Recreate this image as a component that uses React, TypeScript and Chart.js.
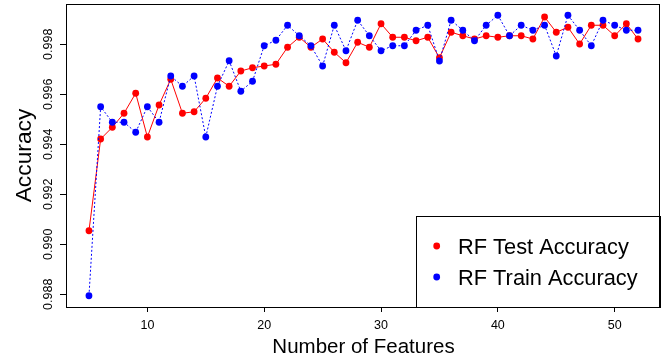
import React, { useEffect, useRef } from "react";
import { Chart, registerables } from "chart.js";

Chart.register(...registerables);

const features = [5, 6, 7, 8, 9, 10, 11, 12, 13, 14, 15, 16, 17, 18, 19, 20, 21, 22, 23, 24, 25, 26, 27, 28, 29, 30, 31, 32, 33, 34, 35, 36, 37, 38, 39, 40, 41, 42, 43, 44, 45, 46, 47, 48, 49, 50, 51, 52];

const testAccuracy = [
  0.99054, 0.99421, 0.99468, 0.99524, 0.99604, 0.99429, 0.99557, 0.9966, 0.99524, 0.9953,
  0.99584, 0.99665, 0.99632, 0.99693, 0.99706, 0.99713, 0.9972, 0.99788, 0.99828, 0.99788,
  0.99821, 0.99768, 0.99726, 0.99808, 0.99788, 0.99882, 0.99828, 0.99828, 0.99814, 0.99828,
  0.99746, 0.99848, 0.99834, 0.99821, 0.99834, 0.99828, 0.99834, 0.99834, 0.99821, 0.99909,
  0.99848, 0.99868, 0.99801, 0.99876, 0.99876, 0.99834, 0.99882, 0.99821,
];

const trainAccuracy = [
  0.98794, 0.9955, 0.99488, 0.99488, 0.99448, 0.9955, 0.99488, 0.99673, 0.99632, 0.99673,
  0.99429, 0.99632, 0.99734, 0.99612, 0.99652, 0.99794, 0.99816, 0.99876, 0.99834, 0.99794,
  0.99713, 0.99876, 0.99774, 0.99896, 0.99834, 0.99774, 0.99794, 0.99794, 0.99856, 0.99876,
  0.99733, 0.99896, 0.99856, 0.99814, 0.99876, 0.99916, 0.99834, 0.99876, 0.99856, 0.99876,
  0.99753, 0.99916, 0.99856, 0.99794, 0.99896, 0.99876, 0.99856, 0.99856,
];

const xTicks = [10, 20, 30, 40, 50];
const yTicks = [0.988, 0.99, 0.992, 0.994, 0.996, 0.998];
const yTickLabels = ["0.988", "0.990", "0.992", "0.994", "0.996", "0.998"];
const legendLabels = ["RF Test Accuracy", "RF Train Accuracy"];
const seriesColors = ["#FF0000", "#0000FF"];

const FONT = '"Liberation Sans", Arial, Helvetica, sans-serif';

const boxLegendPlugin = {
  id: "boxLegend",
  afterDraw(chart: any) {
    const { ctx, chartArea } = chart;
    const { left, top, right, bottom } = chartArea;
    ctx.save();
    // legend
    const lw = 244.3;
    const lh = 91;
    const lx = right - lw;
    const ly = bottom - lh;
    ctx.fillStyle = "#FFFFFF";
    ctx.fillRect(lx, ly, lw, lh);
    ctx.strokeStyle = "#000000";
    ctx.lineWidth = 1;
    ctx.strokeRect(Math.round(lx) + 0.5, Math.round(ly) + 0.5, Math.round(lw), Math.round(lh));
    ctx.font = `21.8px ${FONT}`;
    ctx.textAlign = "left";
    ctx.textBaseline = "alphabetic";
    legendLabels.forEach((label, i) => {
      const cy = ly + 30 + i * 31;
      ctx.fillStyle = seriesColors[i];
      ctx.beginPath();
      ctx.arc(lx + 21, cy, 3.4, 0, Math.PI * 2);
      ctx.fill();
      ctx.fillStyle = "#000000";
      ctx.fillText(label, lx + 42.3, cy + 8.3);
    });
    // plot box
    ctx.strokeStyle = "#000000";
    ctx.lineWidth = 1;
    ctx.strokeRect(Math.round(left) - 0.5, Math.round(top) + 0.5, Math.round(right - left), Math.round(bottom - top));
    ctx.restore();
  },
};

export default function App() {
  const canvasRef = useRef<HTMLCanvasElement | null>(null);

  useEffect(() => {
    if (!canvasRef.current) return;
    const chart = new Chart(canvasRef.current, {
      type: "scatter",
      data: {
        datasets: [
          {
            label: legendLabels[0],
            data: features.map((f, i) => ({ x: f, y: testAccuracy[i] })),
            showLine: true,
            borderColor: seriesColors[0],
            backgroundColor: seriesColors[0],
            borderWidth: 1,
            pointRadius: 3.4,
            pointBorderWidth: 0,
            pointBackgroundColor: seriesColors[0],
            tension: 0,
            order: 1,
          },
          {
            label: legendLabels[1],
            data: features.map((f, i) => ({ x: f, y: trainAccuracy[i] })),
            showLine: true,
            borderColor: seriesColors[1],
            backgroundColor: seriesColors[1],
            borderWidth: 1,
            borderDash: [2, 2],
            pointRadius: 3.4,
            pointBorderWidth: 0,
            pointBackgroundColor: seriesColors[1],
            tension: 0,
            order: 0,
          },
        ],
      },
      options: {
        responsive: false,
        animation: false,
        devicePixelRatio: 1,
        layout: { padding: { top: 4, right: 4, left: 0, bottom: 0 } },
        plugins: {
          legend: { display: false },
          tooltip: { enabled: false },
        },
        scales: {
          x: {
            type: "linear",
            min: 3.12,
            max: 53.88,
            afterBuildTicks: (s: any) => {
              s.ticks = xTicks.map((v) => ({ value: v }));
            },
            afterFit: (s: any) => {
              s.height = 53;
            },
            border: { display: false },
            grid: {
              display: true,
              drawOnChartArea: false,
              drawTicks: true,
              tickLength: 5,
              color: "#000000",
              lineWidth: 1,
            },
            ticks: {
              autoSkip: false,
              maxRotation: 0,
              minRotation: 0,
              padding: 6,
              color: "#000000",
              font: { family: FONT, size: 12.5 },
              callback: (v: any) => String(v),
            },
            title: {
              display: true,
              text: "Number of Features",
              color: "#000000",
              font: { family: FONT, size: 20.5 },
              padding: { top: 0, bottom: 0 },
            },
          },
          y: {
            type: "linear",
            min: 0.98749,
            max: 0.99961,
            afterBuildTicks: (s: any) => {
              s.ticks = yTicks.map((v) => ({ value: v }));
            },
            afterFit: (s: any) => {
              s.width = 67;
            },
            border: { display: false },
            grid: {
              display: true,
              drawOnChartArea: false,
              drawTicks: true,
              tickLength: 7,
              color: "#000000",
              lineWidth: 1,
            },
            ticks: {
              autoSkip: false,
              minRotation: 90,
              maxRotation: 90,
              crossAlign: "center",
              padding: -4,
              color: "#000000",
              font: { family: FONT, size: 12.5 },
              callback: (v: any) => {
                const idx = yTicks.findIndex((t) => Math.abs(t - Number(v)) < 1e-9);
                return idx >= 0 ? yTickLabels[idx] : "";
              },
            },
            title: {
              display: true,
              text: "Accuracy",
              color: "#000000",
              font: { family: FONT, size: 22.8 },
              padding: { top: 11, bottom: 0 },
            },
          },
        },
      },
      plugins: [boxLegendPlugin],
    } as any);
    return () => chart.destroy();
  }, []);

  return (
    <div style={{ position: "fixed", left: 0, top: 0, width: 664, height: 360, background: "#FFFFFF" }}>
      <canvas ref={canvasRef} width={664} height={360} style={{ display: "block" }} />
    </div>
  );
}
